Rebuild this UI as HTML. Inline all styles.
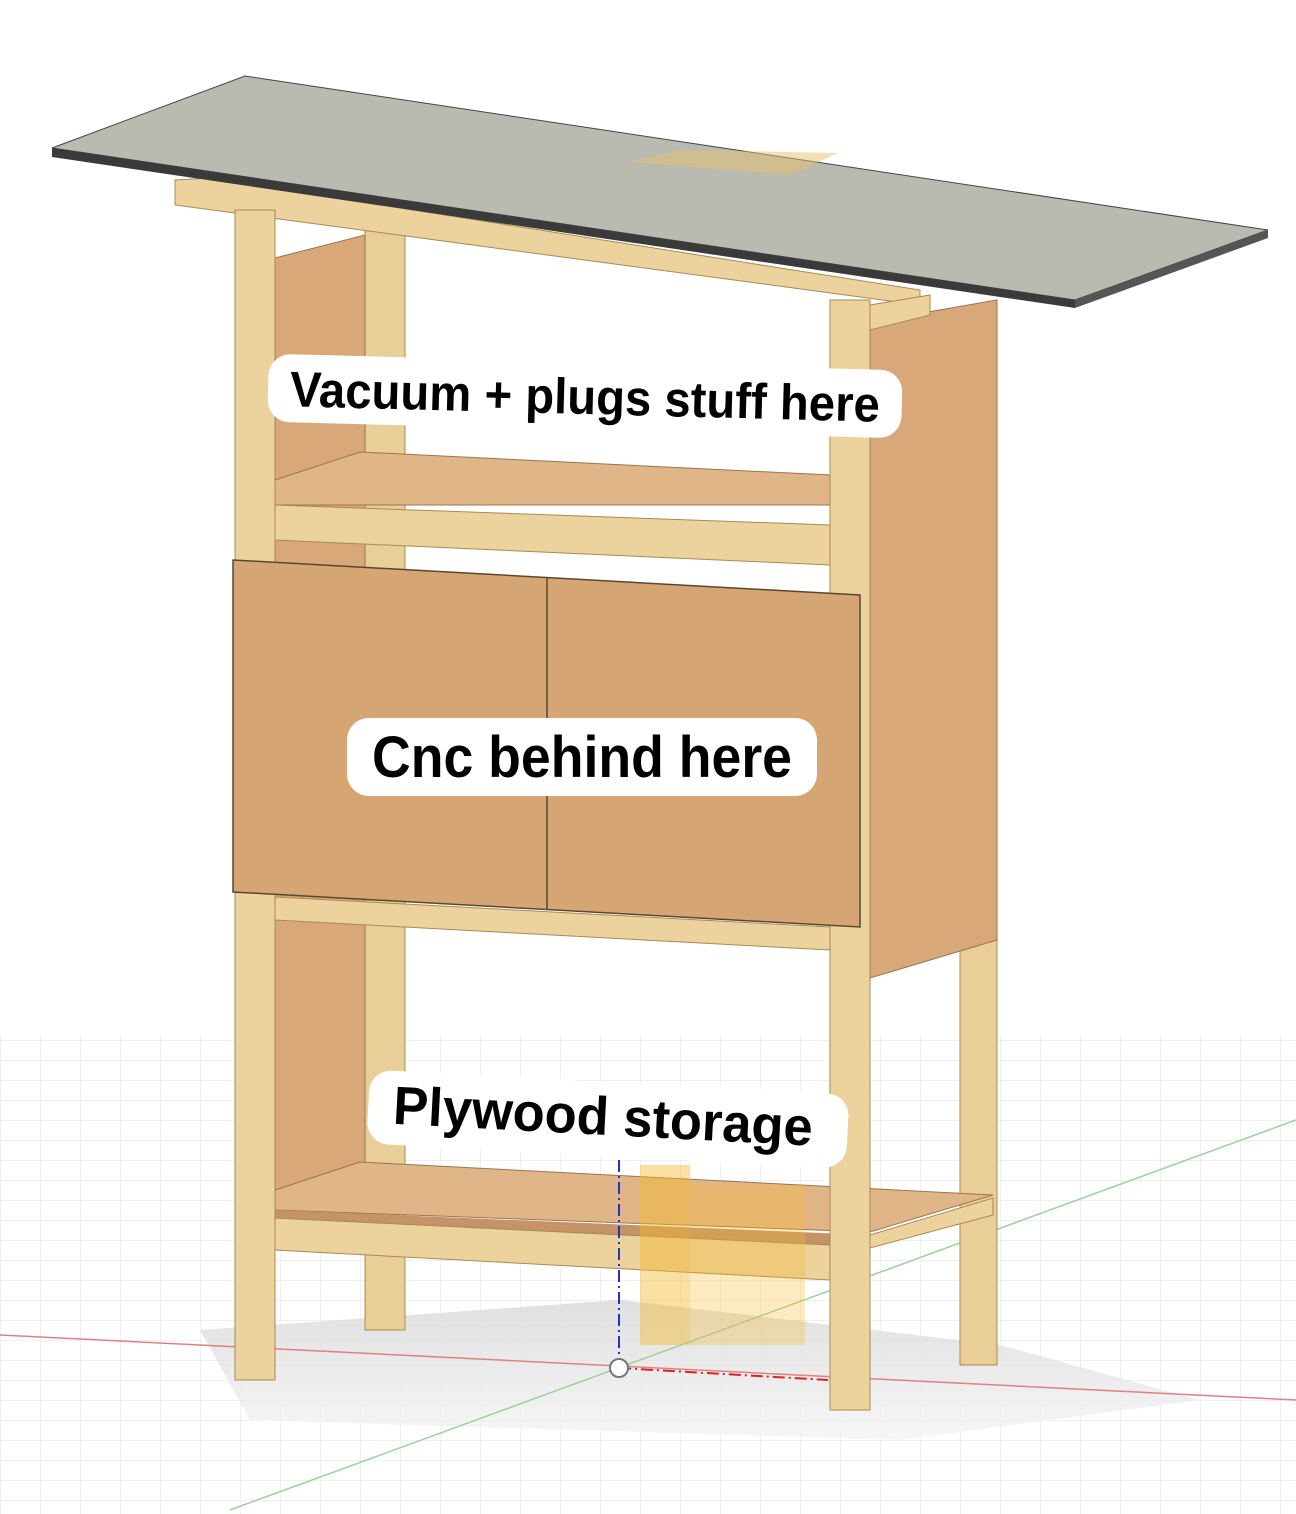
<!DOCTYPE html>
<html><head><meta charset="utf-8"><style>
html,body{margin:0;padding:0;background:#fff;}
svg{display:block}
text{font-family:"Liberation Sans",sans-serif;fill:#000}
</style></head><body>
<svg width="1296" height="1514" viewBox="0 0 1296 1514" xmlns="http://www.w3.org/2000/svg">
<defs>
<pattern id="grid" width="40" height="20" patternUnits="userSpaceOnUse">
<path d="M0 0H40M0 0V20" stroke="#e2e2e2" stroke-width="1" fill="none"/>
</pattern>
<linearGradient id="shadow" x1="0" y1="0" x2="0" y2="1">
<stop offset="0" stop-color="#d8d8d8"/><stop offset="1" stop-color="#f4f4f4"/>
</linearGradient>
</defs>
<rect x="0" y="1035" width="1296" height="479" fill="url(#grid)"/>
<polygon points="200,1330 620,1300 1000,1345 1200,1400 900,1440 250,1420" fill="url(#shadow)" opacity="0.8"/>
<line x1="0" y1="1335" x2="1296" y2="1400" stroke="#e08080" stroke-width="1.5"/>
<line x1="230" y1="1510" x2="1296" y2="1120" stroke="#9ad39a" stroke-width="1.5"/>

<rect x="365" y="230" width="40" height="1100" fill="#e8cf98" stroke="#a88a55"/>
<polygon points="275,258 365,235 365,1165 275,1190" fill="#d9a878" stroke="#9c7450"/>
<rect x="960" y="930" width="37" height="435" fill="#e8cf98" stroke="#a88a55"/>
<polygon points="275,480 360,452 830,475 830,505 275,505" fill="#e0b688" stroke="#9c7450"/>
<polygon points="275,505 830,525 830,565 275,540" fill="#ecd29c" stroke="#a88a55"/>
<polygon points="275,1190 360,1162 993,1195 870,1232 275,1210" fill="#e0b688" stroke="#9c7450"/>
<polygon points="275,1210 870,1235 870,1250 275,1222" fill="#c49468"/>
<polygon points="275,1218 830,1245 830,1280 275,1250" fill="#ecd29c" stroke="#a88a55"/>
<polygon points="870,1235 993,1198 993,1215 870,1248" fill="#ecd29c" stroke="#a88a55"/>
<polygon points="870,322 997,300 997,940 870,978" fill="#d9a878" stroke="#9c7450"/>
<polygon points="175,180 210,178 920,290 920,305 175,205" fill="#ecd29c" stroke="#a88a55"/>
<polygon points="870,305 930,295 930,315 870,330" fill="#ecd29c" stroke="#a88a55"/>
<rect x="235" y="210" width="40" height="1170" fill="#ecd29c" stroke="#a88a55"/>
<rect x="830" y="300" width="40" height="1110" fill="#ecd29c" stroke="#a88a55"/>
<polygon points="275,897 830,927 830,950 275,920" fill="#ecd29c" stroke="#a88a55"/>
<polygon points="233,560 860,595 860,927 233,892" fill="#d6a574" stroke="#5a4630" stroke-width="1.5"/>
<line x1="547" y1="578" x2="547" y2="910" stroke="#5a4630" stroke-width="1.5"/>
<polygon points="52,148 245,76 1268,230 1075,300" fill="#b9bbb0" stroke="#444"/>
<polygon points="52,148 1075,300 1075,308 52,157" fill="#3a3a3a"/>
<polygon points="1075,300 1268,230 1268,238 1075,308" fill="#555"/>
<polygon points="630,162 680,150 838,153 790,175" fill="#e8c070" opacity="0.5"/>
<rect x="640" y="1165" width="50" height="180" fill="#f5b830" opacity="0.45"/>
<rect x="690" y="1185" width="115" height="160" fill="#f5b830" opacity="0.3"/>
<line x1="619" y1="1160" x2="619" y2="1368" stroke="#2233cc" stroke-width="2" stroke-dasharray="12,4,2,4"/>
<line x1="619" y1="1368" x2="828" y2="1380" stroke="#dd2222" stroke-width="2" stroke-dasharray="12,4,2,4"/>
<circle cx="619" cy="1368" r="9" fill="#fff" stroke="#777" stroke-width="2"/>

<g transform="rotate(1.5 585 396)">
<rect x="268" y="362" width="634" height="68" rx="22" fill="#fff"/>
<text x="585" y="414" font-size="50" font-weight="bold" text-anchor="middle" textLength="590" lengthAdjust="spacingAndGlyphs">Vacuum + plugs stuff here</text>
</g>
<rect x="347" y="718" width="470" height="78" rx="22" fill="#fff"/>
<text x="582" y="777" font-size="58" font-weight="bold" text-anchor="middle" textLength="420" lengthAdjust="spacingAndGlyphs">Cnc behind here</text>
<g transform="rotate(3 608 1118)">
<rect x="368" y="1082" width="480" height="74" rx="22" fill="#fff"/>
<text x="603" y="1135" font-size="54" font-weight="bold" text-anchor="middle" textLength="420" lengthAdjust="spacingAndGlyphs">Plywood storage</text>
</g>
</svg>
</body></html>
